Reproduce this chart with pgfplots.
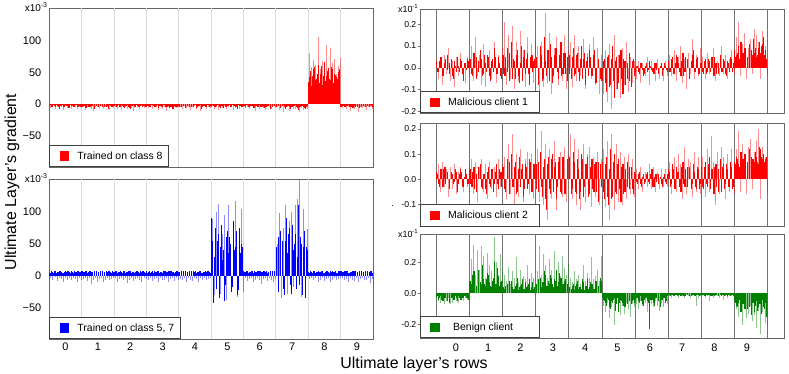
\documentclass[border=0pt]{standalone}
\usepackage{fontspec}
\setmainfont{Liberation Sans}
\usepackage{pgfplots}
\usepackage{pgfplotstable}
\pgfplotsset{compat=1.18}

\definecolor{benign}{RGB}{0,128,0}
\newcommand{\fs}[1]{\fontsize{#1}{#1}\selectfont}
\newcommand{\lstrut}{\rule[-2.5bp]{0pt}{10.5bp}}

% 16 rows per class, a = dark comb, b = light comb, c = extra thin dark comb
\pgfplotstableread[row sep=\\]{
a b\\
-3 -6\\ -4 -3\\ -2 -8\\ -5 -4\\ -3 -2\\ -7 -5\\ -3 -9\\ -4 -3\\ -2 -6\\ -3 -4\\ -6 -7\\ -3 -3\\ -4 -5\\ -2 -8\\ -5 -4\\ -3 -6\\
-4 -5\\ -3 -9\\ -6 -4\\ -2 -3\\ -4 -7\\ -3 -11\\ -8 -5\\ -3 -4\\ -4 -6\\ -2 -3\\ -5 -8\\ -3 -5\\ -4 -4\\ -7 -9\\ -3 -3\\ -4 -6\\
-3 -4\\ -5 -7\\ -2 -3\\ -4 -9\\ -3 -5\\ -6 -4\\ -3 -8\\ -4 -3\\ -7 -6\\ -3 -10\\ -4 -4\\ -2 -5\\ -5 -7\\ -3 -3\\ -4 -6\\ -3 -5\\
-4 -6\\ -3 -3\\ -5 -8\\ -2 -4\\ -4 -5\\ -3 -9\\ -6 -3\\ -3 -7\\ -4 -4\\ -2 -10\\ -5 -5\\ -3 -3\\ -4 -8\\ -7 -4\\ -3 -6\\ -4 -5\\
-3 -5\\ -4 -8\\ -2 -3\\ -6 -6\\ -3 -4\\ -4 -9\\ -3 -5\\ -5 -3\\ -2 -7\\ -4 -4\\ -3 -10\\ -7 -5\\ -3 -3\\ -4 -8\\ -2 -4\\ -4 -6\\
-4 -3\\ -3 -7\\ -5 -5\\ -2 -9\\ -4 -4\\ -3 -6\\ -6 -3\\ -4 -8\\ -3 -5\\ -2 -4\\ -5 -9\\ -3 -6\\ -4 -3\\ -8 -7\\ -3 -5\\ -4 -4\\
-3 -6\\ -5 -4\\ -2 -8\\ -4 -3\\ -3 -5\\ -6 -10\\ -3 -4\\ -4 -7\\ -2 -3\\ -5 -6\\ -3 -9\\ -4 -4\\ -3 -5\\ -7 -8\\ -4 -3\\ -3 -6\\
-4 -5\\ -3 -9\\ -6 -4\\ -3 -12\\ -4 -6\\ -5 -4\\ -3 -10\\ -7 -5\\ -4 -7\\ -3 -8\\ -5 -4\\ -9 -13\\ -4 -6\\ -3 -9\\ -6 -5\\ -4 -7\\
35 81\\ 52 58\\ 44 70\\ 58 62\\ 40 105\\ 62 55\\ 48 68\\ 30 60\\ 66 93\\ 45 52\\ 57 88\\ 38 64\\ 55 71\\ 47 48\\ 42 60\\ 50 72\\
-4 -6\\ -3 -4\\ -5 -8\\ -3 -5\\ -2 -10\\ -4 -4\\ -6 -7\\ -3 -3\\ -4 -12\\ -3 -5\\ -5 -6\\ -3 -4\\ -4 -9\\ -2 -5\\ -4 -4\\ -3 -7\\
}\tabLa
\pgfplotstableread[row sep=\\]{
c\\
-2\\ -4\\ -3\\ -2\\ -5\\ -3\\ -2\\ -4\\ -3\\ -6\\ -2\\ -3\\ -4\\ -2\\ -3\\ -5\\
-3\\ -2\\ -4\\ -5\\ -2\\ -3\\ -6\\ -2\\ -4\\ -3\\ -2\\ -5\\ -3\\ -2\\ -4\\ -3\\
-2\\ -3\\ -5\\ -2\\ -4\\ -3\\ -2\\ -6\\ -3\\ -2\\ -4\\ -3\\ -5\\ -2\\ -3\\ -4\\
-3\\ -5\\ -2\\ -3\\ -4\\ -2\\ -3\\ -5\\ -2\\ -4\\ -3\\ -6\\ -2\\ -3\\ -4\\ -2\\
-4\\ -2\\ -3\\ -5\\ -2\\ -3\\ -4\\ -2\\ -6\\ -3\\ -2\\ -4\\ -3\\ -5\\ -2\\ -3\\
-2\\ -4\\ -3\\ -2\\ -6\\ -3\\ -2\\ -4\\ -3\\ -5\\ -2\\ -3\\ -4\\ -2\\ -3\\ -5\\
-3\\ -2\\ -4\\ -3\\ -2\\ -5\\ -3\\ -2\\ -4\\ -3\\ -6\\ -2\\ -3\\ -4\\ -2\\ -3\\
-4\\ -3\\ -5\\ -2\\ -7\\ -3\\ -4\\ -5\\ -3\\ -2\\ -6\\ -4\\ -3\\ -5\\ -8\\ -3\\
42\\ 28\\ 55\\ 38\\ 48\\ 33\\ 60\\ 45\\ 36\\ 52\\ 40\\ 58\\ 34\\ 46\\ 39\\ 55\\
-3\\ -2\\ -4\\ -3\\ -5\\ -2\\ -3\\ -4\\ -2\\ -6\\ -3\\ -2\\ -4\\ -3\\ -2\\ -4\\
}\tabLaC

\pgfplotstableread[row sep=\\]{
a b\\
6 -3\\ 7 -6\\ 5 -2\\ 8 -8\\ 6 -4\\ 7 -5\\ 6 -10\\ 5 -3\\ 7 -6\\ 8 -4\\ 6 -7\\ 7 -3\\ 5 -5\\ 6 -9\\ 7 -4\\ 6 -6\\
7 -5\\ 6 -4\\ 8 -8\\ 5 -3\\ 7 -12\\ 6 -6\\ 7 -4\\ 8 -9\\ 6 -5\\ 5 -3\\ 7 -10\\ 6 -6\\ 8 -4\\ 7 -7\\ 6 -5\\ 7 -3\\
6 -4\\ 7 -9\\ 6 -5\\ 8 -3\\ 5 -7\\ 7 -4\\ 6 -11\\ 7 -6\\ 8 -3\\ 6 -8\\ 5 -5\\ 7 -4\\ 6 -6\\ 8 -10\\ 7 -3\\ 6 -5\\
7 -6\\ 6 -3\\ 5 -8\\ 7 -5\\ 8 -4\\ 6 -9\\ 7 -3\\ 6 -6\\ 5 -7\\ 7 -4\\ 6 -10\\ 8 -5\\ 7 -3\\ 6 -8\\ 5 -4\\ 7 -6\\
6 -5\\ 8 -7\\ 7 -3\\ 6 -10\\ 5 -4\\ 7 -6\\ 6 -8\\ 8 -3\\ 7 -5\\ 6 -9\\ 7 -4\\ 5 -6\\ 6 -3\\ 7 -7\\ 8 -5\\ 6 -4\\
90 88\\ -43 -30\\ 75 100\\ 55 112\\ -35 -28\\ 80 65\\ 40 95\\ -15 -38\\ 70 110\\ 60 -20\\ -25 80\\ 85 117\\ 45 -33\\ -30 70\\ 75 105\\ 50 -25\\
7 -4\\ 6 -8\\ 8 -5\\ 6 -3\\ 7 -9\\ 5 -6\\ 6 -4\\ 7 -7\\ 8 -12\\ 6 -5\\ 7 -3\\ 6 -8\\ 5 -4\\ 7 -6\\ 6 -10\\ 8 -5\\
45 50\\ -25 98\\ 70 -35\\ 55 75\\ -30 110\\ 90 -28\\ 65 85\\ -15 100\\ 80 -18\\ 50 110\\ -20 120\\ 110 150\\ 60 -33\\ -30 105\\ 70 -25\\ 45 73\\
6 -5\\ 7 -3\\ 5 -7\\ 8 -4\\ 6 -9\\ 7 -6\\ 6 -3\\ 8 -8\\ 5 -5\\ 7 -4\\ 6 -10\\ 7 -6\\ 8 -3\\ 6 -7\\ 5 -5\\ 7 -4\\
7 -4\\ 6 -7\\ 8 -5\\ 7 -10\\ 5 -3\\ 6 -6\\ 7 -8\\ 8 -4\\ 6 -9\\ 7 -5\\ 5 -3\\ 6 -7\\ 8 -6\\ 7 -4\\ 6 -11\\ 7 -5\\
}\tabLb
\pgfplotstableread[row sep=\\]{
c\\
5\\ 6\\ 7\\ 5\\ 6\\ 7\\ 5\\ 6\\ 6\\ 7\\ 5\\ 6\\ 7\\ 5\\ 6\\ 6\\
6\\ 5\\ 7\\ 6\\ 5\\ 6\\ 7\\ 5\\ 6\\ 7\\ 6\\ 5\\ 6\\ 7\\ 5\\ 6\\
7\\ 5\\ 6\\ 6\\ 7\\ 5\\ 6\\ 7\\ 5\\ 6\\ 6\\ 7\\ 5\\ 6\\ 7\\ 5\\
5\\ 7\\ 6\\ 5\\ 6\\ 7\\ 5\\ 6\\ 7\\ 5\\ 6\\ 6\\ 7\\ 5\\ 6\\ 7\\
6\\ 6\\ 5\\ 7\\ 6\\ 5\\ 7\\ 6\\ 5\\ 6\\ 7\\ 5\\ 6\\ 6\\ 7\\ 5\\
55\\ 30\\ -20\\ 65\\ 45\\ 25\\ -40\\ 60\\ 35\\ 50\\ -18\\ 40\\ 70\\ -22\\ 35\\ 45\\
6\\ 7\\ 5\\ 6\\ 6\\ 7\\ 5\\ 6\\ 7\\ 5\\ 6\\ 7\\ 6\\ 5\\ 7\\ 6\\
30\\ 60\\ 45\\ -20\\ 55\\ 35\\ 75\\ -28\\ 40\\ 65\\ 30\\ -15\\ 50\\ 45\\ -35\\ 40\\
5\\ 6\\ 7\\ 5\\ 6\\ 6\\ 7\\ 5\\ 6\\ 7\\ 5\\ 6\\ 6\\ 7\\ 5\\ 6\\
6\\ 5\\ 6\\ 7\\ 5\\ 6\\ 7\\ 6\\ 5\\ 6\\ 7\\ 5\\ 6\\ 6\\ 7\\ 5\\
}\tabLbC

\pgfplotstableread[row sep=\\]{
a b\\
3 -5\\ -2 4\\ 5 -8\\ -4 6\\ 2 -3\\ 6 9\\ -3 -6\\ 4 3\\ -5 -9\\ 1 5\\ 5 -4\\ -2 7\\ 3 -2\\ -6 -7\\ 2 5\\ 4 -3\\
4 10\\ -3 -6\\ 7 14\\ -5 -4\\ 3 6\\ 8 -8\\ -4 11\\ 6 -9\\ -2 5\\ 5 8\\ -6 -5\\ 4 12\\ 9 -7\\ -3 6\\ 5 -3\\ -4 9\\
6 21\\ -4 -8\\ 9 15\\ -6 -5\\ 12 19\\ 4 -10\\ -5 12\\ 8 -6\\ -7 17\\ 10 8\\ 5 -9\\ -3 14\\ 7 -4\\ -8 11\\ 6 -7\\ 3 13\\
5 10\\ -8 -15\\ 10 12\\ -6 -9\\ 14 25\\ -4 -7\\ 8 16\\ 11 -12\\ -7 9\\ 6 14\\ 9 -8\\ -5 11\\ 12 -6\\ -3 15\\ 7 -10\\ -6 8\\
6 12\\ -5 -9\\ 9 15\\ -3 -6\\ 7 10\\ -6 -4\\ 10 13\\ 4 -10\\ -8 7\\ 5 11\\ 8 -5\\ -4 14\\ 6 -8\\ -7 9\\ 3 -12\\ -5 6\\
-6 -12\\ 4 8\\ -11 -16\\ 6 11\\ -8 -19\\ 10 15\\ -14 -10\\ 5 6\\ -7 -14\\ 8 9\\ -12 -8\\ 3 12\\ -5 -11\\ 7 5\\ -9 -7\\ 4 3\\
-2 -5\\ 1 3\\ -3 -7\\ 2 2\\ -4 -4\\ 1 5\\ -2 -8\\ 3 3\\ -1 -3\\ -3 -6\\ 2 4\\ -2 -5\\ 1 2\\ -4 -6\\ 2 3\\ -1 -4\\
3 6\\ -2 -4\\ 5 8\\ -3 -6\\ 6 5\\ 2 10\\ -4 -7\\ 7 4\\ -2 -10\\ 4 7\\ -5 -3\\ 3 13\\ 8 -5\\ -2 6\\ 5 -4\\ -3 9\\
2 5\\ -3 -5\\ 4 7\\ -2 -3\\ 3 4\\ 5 9\\ -4 -6\\ 2 3\\ -3 -4\\ 6 10\\ -2 -3\\ 3 6\\ -4 -5\\ 2 4\\ 5 8\\ -2 -3\\
8 14\\ 6 21\\ 10 -4\\ 12 11\\ 7 16\\ 9 -5\\ 5 9\\ 11 13\\ 8 -3\\ 13 18\\ 9 15\\ 6 12\\ 12 -5\\ 10 17\\ 14 10\\ 8 -4\\
}\tabRa
\pgfplotstableread[row sep=\\]{
c\\
-2\\ 3\\ 1\\ -3\\ 4\\ -1\\ 2\\ -4\\ 3\\ -2\\ 1\\ 4\\ -3\\ 2\\ -1\\ 3\\
2\\ -4\\ 3\\ 5\\ -2\\ 4\\ -3\\ 2\\ 6\\ -4\\ 3\\ -2\\ 5\\ -3\\ 2\\ -5\\
-3\\ 5\\ -2\\ 7\\ -5\\ 3\\ 6\\ -4\\ 2\\ -6\\ 8\\ 4\\ -3\\ 5\\ -2\\ 4\\
4\\ -3\\ 6\\ -5\\ 3\\ 8\\ -6\\ 5\\ -4\\ 9\\ -2\\ 6\\ -4\\ 7\\ -3\\ 5\\
-3\\ 5\\ -4\\ 6\\ -2\\ 4\\ -5\\ 7\\ 3\\ -4\\ 5\\ -3\\ 8\\ -2\\ 4\\ -6\\
3\\ -7\\ 5\\ -9\\ 4\\ -6\\ 3\\ -10\\ 6\\ -5\\ 4\\ -8\\ 2\\ -6\\ 3\\ -4\\
1\\ -2\\ 2\\ -1\\ -3\\ 2\\ -1\\ 1\\ -2\\ 2\\ -1\\ -3\\ 2\\ -1\\ 1\\ -2\\
-2\\ 4\\ -3\\ 2\\ 5\\ -2\\ 3\\ -4\\ 5\\ 2\\ -3\\ 6\\ -2\\ 4\\ -3\\ 2\\
-2\\ 3\\ -3\\ 4\\ -2\\ 3\\ 5\\ -3\\ 2\\ -2\\ 4\\ -3\\ 3\\ -2\\ 4\\ 2\\
5\\ 7\\ 4\\ 9\\ 6\\ 8\\ 3\\ 10\\ 6\\ 7\\ 5\\ 9\\ 7\\ 11\\ 6\\ 4\\
}\tabRaC

\pgfplotstableread[row sep=\\]{
a b\\
3 6\\ -2 -5\\ 4 7\\ -3 -3\\ 5 4\\ 2 -7\\ -4 5\\ 3 -4\\ -2 6\\ 4 -6\\ -5 3\\ 2 5\\ 3 -5\\ -3 4\\ 4 -3\\ -2 6\\
4 8\\ -3 -6\\ 5 7\\ -5 -9\\ 3 5\\ 6 8\\ -4 -5\\ 2 6\\ -6 -8\\ 5 7\\ -3 -4\\ 4 5\\ -2 -7\\ 6 8\\ -4 -3\\ 3 6\\
5 9\\ -4 -8\\ 8 14\\ -6 -6\\ 10 18\\ -3 -12\\ 7 10\\ -5 -7\\ 9 12\\ 4 -9\\ -7 8\\ 6 11\\ -4 -6\\ 8 10\\ -5 -8\\ 6 7\\
6 12\\ -5 -9\\ 11 19\\ -7 -10\\ 8 14\\ -12 -16\\ 9 12\\ -6 -8\\ 10 15\\ 5 -12\\ -8 9\\ 7 11\\ -5 -7\\ 9 13\\ -6 -9\\ 8 10\\
9 18\\ -6 -8\\ 11 16\\ -5 -10\\ 8 12\\ -8 -12\\ 10 14\\ -7 -9\\ 6 10\\ 9 13\\ -6 -11\\ 8 9\\ -5 -7\\ 7 11\\ -9 -10\\ 6 8\\
7 12\\ -8 -11\\ 9 15\\ -10 -16\\ 12 18\\ -7 -12\\ 10 14\\ -6 -9\\ 8 11\\ -9 -10\\ 6 9\\ -5 -8\\ 7 10\\ -4 -6\\ 5 8\\ -6 -7\\
2 4\\ -2 -4\\ 3 5\\ -3 -5\\ 2 3\\ -1 -3\\ 3 6\\ -2 -4\\ 4 5\\ -3 -5\\ 2 3\\ -2 -4\\ 1 4\\ -3 -3\\ 2 4\\ -2 -3\\
4 7\\ -3 -6\\ 6 9\\ -4 -5\\ 5 10\\ 3 6\\ -5 -8\\ 7 13\\ -3 -6\\ 5 8\\ 4 7\\ -4 -7\\ 6 11\\ -3 -5\\ 5 9\\ -4 -6\\
5 9\\ -4 -7\\ 7 12\\ -3 -5\\ 9 17\\ 4 7\\ -6 -10\\ 6 11\\ -5 -6\\ 8 13\\ 5 9\\ -4 -8\\ 6 10\\ -3 -5\\ 7 12\\ -4 -6\\
7 12\\ 9 19\\ 6 -5\\ 11 14\\ 8 10\\ 10 -6\\ 7 13\\ 12 16\\ 9 -4\\ 8 11\\ 11 15\\ 7 20\\ 13 -8\\ 9 13\\ 10 9\\ 8 -5\\
}\tabRb
\pgfplotstableread[row sep=\\]{
c\\
2\\ -3\\ 1\\ 4\\ -2\\ 3\\ -3\\ 2\\ -1\\ 3\\ -2\\ 4\\ -3\\ 1\\ 2\\ -2\\
-2\\ 3\\ -4\\ 2\\ 5\\ -3\\ 2\\ -4\\ 3\\ -2\\ 4\\ -5\\ 3\\ -2\\ 4\\ -3\\
3\\ -5\\ 4\\ 7\\ -3\\ 5\\ -6\\ 4\\ -3\\ 6\\ -4\\ 5\\ -2\\ 7\\ -4\\ 3\\
-4\\ 7\\ -3\\ 5\\ -8\\ 6\\ -4\\ 8\\ -5\\ 7\\ -3\\ 9\\ -6\\ 5\\ -4\\ 6\\
5\\ -4\\ 7\\ -6\\ 4\\ -5\\ 8\\ -3\\ 6\\ -7\\ 5\\ -4\\ 6\\ -5\\ 7\\ -3\\
-5\\ 6\\ -7\\ 4\\ -8\\ 7\\ -5\\ 6\\ -4\\ 5\\ -6\\ 4\\ -3\\ 5\\ -4\\ 3\\
-1\\ 2\\ -2\\ 1\\ -2\\ 2\\ -1\\ 2\\ -3\\ 1\\ -1\\ 2\\ -2\\ 1\\ -1\\ 2\\
3\\ -2\\ 4\\ -4\\ 3\\ -3\\ 5\\ -2\\ 4\\ -3\\ 5\\ -2\\ 3\\ -4\\ 4\\ -2\\
-3\\ 5\\ -2\\ 6\\ -4\\ 3\\ 5\\ -3\\ 4\\ -5\\ 6\\ -2\\ 4\\ -3\\ 5\\ -3\\
6\\ 8\\ 5\\ 10\\ 7\\ 9\\ 6\\ 11\\ 8\\ 7\\ 9\\ 6\\ 12\\ 8\\ 7\\ 9\\
}\tabRbC

\pgfplotstableread[row sep=\\]{
a b\\
-3 -5\\ -4 -6\\ -2 -4\\ -5 -7\\ -3 -5\\ -4 -3\\ -6 -7\\ -3 -6\\ -4 -4\\ -2 -5\\ -5 -6\\ -3 -4\\ -4 -5\\ -3 -3\\ -2 -4\\ -3 -5\\
8 22\\ 6 31\\ 14 12\\ 5 28\\ 10 15\\ 7 30\\ 18 24\\ 6 10\\ 9 26\\ 12 18\\ 5 14\\ 8 36\\ 20 20\\ 6 12\\ 11 25\\ 7 15\\
4 12\\ 3 8\\ 6 17\\ 4 6\\ 8 14\\ 3 10\\ 5 23\\ 10 7\\ 4 15\\ 6 11\\ 3 9\\ 7 18\\ 5 8\\ 9 13\\ 4 10\\ 3 6\\
6 14\\ 5 30\\ 10 12\\ 7 25\\ 14 18\\ 5 10\\ 8 22\\ 12 15\\ 6 27\\ 9 13\\ 15 20\\ 7 11\\ 10 24\\ 6 16\\ 8 12\\ 5 19\\
4 10\\ 3 7\\ 6 14\\ 5 9\\ 8 12\\ 4 6\\ 3 18\\ 7 8\\ 5 13\\ 9 10\\ 4 23\\ 6 9\\ 3 11\\ 8 15\\ 5 8\\ 10 24\\
-3 -8\\ -5 -12\\ -8 -6\\ -4 -16\\ -10 -9\\ -6 -20\\ -3 -7\\ -7 -11\\ -12 -14\\ -4 -8\\ -6 -13\\ -9 -6\\ -3 -10\\ -5 -15\\ -7 -7\\ -4 -9\\
-4 -7\\ -3 -10\\ -6 -5\\ -5 -8\\ -8 -6\\ -3 -12\\ -5 -9\\ -23 -7\\ -4 -9\\ -6 -5\\ -3 -8\\ -5 -11\\ -9 -6\\ -4 -9\\ -3 -5\\ -5 -7\\
-1 -2\\ -2 -3\\ -1 -2\\ -2 -1\\ -1 -3\\ -1 -2\\ -2 -2\\ -1 -3\\ -2 -1\\ -1 -2\\ -1 -3\\ -2 -2\\ -1 -2\\ -2 -8\\ -1 -3\\ -2 -2\\
-1 -2\\ -1 -3\\ -2 -2\\ -1 -5\\ -1 -2\\ -2 -3\\ -1 -2\\ -1 -2\\ -2 -3\\ -1 -2\\ -1 -4\\ -2 -2\\ -1 -3\\ -1 -2\\ -2 -2\\ -1 -3\\
-5 -10\\ -8 -15\\ -6 -12\\ -12 -20\\ -7 -9\\ -10 -16\\ -5 -13\\ -9 -8\\ -14 -18\\ -6 -14\\ -8 -22\\ -11 -11\\ -7 -26\\ -13 -12\\ -9 -19\\ -6 -20\\
}\tabRc
\pgfplotstableread[row sep=\\]{
c\\
-2\\ -3\\ -4\\ -2\\ -3\\ -5\\ -2\\ -3\\ -4\\ -3\\ -2\\ -4\\ -3\\ -2\\ -3\\ -4\\
5\\ 12\\ 7\\ 4\\ 15\\ 6\\ 9\\ 5\\ 13\\ 7\\ 4\\ 10\\ 6\\ 16\\ 5\\ 8\\
3\\ 5\\ 2\\ 8\\ 4\\ 3\\ 6\\ 2\\ 5\\ 9\\ 3\\ 4\\ 6\\ 2\\ 7\\ 4\\
5\\ 9\\ 4\\ 7\\ 12\\ 5\\ 6\\ 10\\ 4\\ 8\\ 5\\ 13\\ 6\\ 4\\ 9\\ 6\\
3\\ 5\\ 2\\ 6\\ 3\\ 4\\ 9\\ 2\\ 5\\ 3\\ 7\\ 4\\ 2\\ 6\\ 3\\ 8\\
-4\\ -6\\ -3\\ -9\\ -5\\ -4\\ -11\\ -3\\ -6\\ -5\\ -8\\ -4\\ -7\\ -3\\ -5\\ -6\\
-3\\ -5\\ -2\\ -7\\ -4\\ -3\\ -6\\ -4\\ -2\\ -8\\ -3\\ -5\\ -4\\ -3\\ -6\\ -2\\
-1\\ -1\\ -2\\ -1\\ -2\\ -1\\ -1\\ -2\\ -1\\ -1\\ -2\\ -1\\ -2\\ -1\\ -1\\ -1\\
-1\\ -2\\ -1\\ -1\\ -2\\ -1\\ -2\\ -1\\ -1\\ -2\\ -1\\ -1\\ -2\\ -1\\ -1\\ -2\\
-6\\ -9\\ -4\\ -11\\ -7\\ -5\\ -10\\ -8\\ -6\\ -12\\ -5\\ -9\\ -7\\ -4\\ -10\\ -15\\
}\tabRcC

\tikzset{
  scalelab/.style={anchor=base east, inner sep=0pt, font=\fs{10}, xshift=-1.5bp, yshift=-3bp},
}

\pgfplotsset{
  panel/.style={
    scale only axis, anchor=south west, clip mode=individual,
    axis line style={black!60, line width=0.8bp},
    /pgf/number format/assume math mode=true,
    xticklabel style={font=\fs{11}},
    xtick pos=bottom, ytick pos=left,
    legend image code/.code={\path (0bp,0bp) (21bp,0bp); \fill[##1] (6bp,-4.25bp) rectangle (14.5bp,4.25bp);},
    legend style={at={(0,0)}, anchor=south west, draw=black!75, line width=0.8bp,
      fill=white, inner xsep=4bp, inner ysep=4bp, font=\fs{10.5}},
    legend cell align=left,
  },
  lpanel/.style={panel, width=323.7bp, xmin=-0.5, xmax=9.5, ymin=-98.6, ymax=150.6,
    ytick={-50,0,50,100}, yticklabels={−50,0,50,100},
    yticklabel style={font=\fs{11}, xshift=-4.5bp},
    major tick length=0pt,
    extra x ticks={0.5,1.5,...,8.5}, extra x tick labels={},
    extra x tick style={grid=major, major grid style={black!14, line width=0.9bp}}},
  rpanel/.style={panel, width=364.3bp, xmin=-1.11, xmax=10.16,
    yticklabel style={font=\fs{8.7}, inner xsep=1.5bp},
    major tick length=2bp, tick align=outside, ytick style={black!60},
    xtick style={draw=none},
    extra x ticks={-0.6,0.424,1.448,2.472,3.496,4.52,5.544,6.568,7.592,8.616,9.64},
    extra x tick labels={},
    extra x tick style={grid=major, major grid style={black!55, line width=0.9bp}}},
  dark/.style={ycomb, mark=none, line width=1.2bp, forget plot},
  thin/.style={ycomb, mark=none, line width=0.9bp, forget plot},
  light/.style={ycomb, mark=none, line width=1bp, opacity=0.45, forget plot},
}

\begin{document}
\begin{tikzpicture}
\path[use as bounding box] (0,0) rectangle (789bp,374bp);

% left top
\begin{axis}[lpanel, at={(49.3bp,207bp)}, height=158.7bp, xtick=\empty]
\addplot[light, red] table[x expr={-0.5+(\coordindex+0.82)/16}, y=b] {\tabLa};
\addplot[dark, red] table[x expr={-0.5+(\coordindex+0.15)/16}, y=a] {\tabLa};
\addplot[thin, red] table[x expr={-0.5+(\coordindex+0.5)/16}, y=c] {\tabLaC};
\addlegendimage{red}
\addlegendentry{Trained on class 8\lstrut}
\node[scalelab] at (rel axis cs:0,1) {x10\textsuperscript{-3}};
\end{axis}

% left bottom
\begin{axis}[lpanel, at={(49.3bp,35bp)}, height=159.7bp, xtick={0,...,9}]
\addplot[light, blue] table[x expr={-0.5+(\coordindex+0.82)/16}, y=b] {\tabLb};
\addplot[dark, blue] table[x expr={-0.5+(\coordindex+0.15)/16}, y=a] {\tabLb};
\addplot[thin, blue] table[x expr={-0.5+(\coordindex+0.5)/16}, y=c] {\tabLbC};
\addlegendimage{blue}
\addlegendentry{Trained on class 5, 7\lstrut}
\node[scalelab] at (rel axis cs:0,1) {x10\textsuperscript{-3}};
\end{axis}

% right 1
\begin{axis}[rpanel, at={(420bp,260.7bp)}, height=104bp, xtick=\empty,
  ymin=-21, ymax=26.9, ytick={-20,-10,0,10,20}, yticklabels={-0.2,-0.1,0.0,0.1,0.2}]
\addplot[light, red] table[x expr={-0.6+(\coordindex+0.82)*0.064}, y=b] {\tabRa};
\addplot[dark, red] table[x expr={-0.6+(\coordindex+0.15)*0.064}, y=a] {\tabRa};
\addplot[thin, red] table[x expr={-0.6+(\coordindex+0.5)*0.064}, y=c] {\tabRaC};
\addlegendimage{red}
\addlegendentry{\makebox[85bp][l]{Malicious client 1}\lstrut}
\node[scalelab, font=\fs{9}] at (rel axis cs:0,1) {x10\textsuperscript{-1}};
\end{axis}

% right 2
\begin{axis}[rpanel, at={(420bp,147.3bp)}, height=103.4bp, xtick=\empty,
  ymin=-18.8, ymax=22.2, ytick={-10,0,10,20}, yticklabels={-0.1,0.0,0.1,0.2}]
\addplot[light, red] table[x expr={-0.6+(\coordindex+0.82)*0.064}, y=b] {\tabRb};
\addplot[dark, red] table[x expr={-0.6+(\coordindex+0.15)*0.064}, y=a] {\tabRb};
\addplot[thin, red] table[x expr={-0.6+(\coordindex+0.5)*0.064}, y=c] {\tabRbC};
\addlegendimage{red}
\addlegendentry{\makebox[85bp][l]{Malicious client 2}\lstrut}
\node[anchor=base, inner sep=0pt, font=\fs{9}, xshift=-27.3bp, yshift=20bp] at (rel axis cs:0,0) {.};
\end{axis}

% right 3
\begin{axis}[rpanel, at={(420bp,35.7bp)}, height=104bp, xtick={0,...,9},
  ymin=-28.8, ymax=37.8, ytick={-20,0,20}, yticklabels={-0.2,0.0,0.2}]
\addplot[light, benign] table[x expr={-0.6+(\coordindex+0.82)*0.064}, y=b] {\tabRc};
\addplot[dark, benign] table[x expr={-0.6+(\coordindex+0.15)*0.064}, y=a] {\tabRc};
\addplot[thin, benign] table[x expr={-0.6+(\coordindex+0.5)*0.064}, y=c] {\tabRcC};
\addlegendimage{benign}
\addlegendentry{\makebox[85bp][l]{\hspace{5bp}Benign client}\lstrut}
\node[scalelab, font=\fs{9}] at (rel axis cs:0,1) {x10\textsuperscript{-1}};
\end{axis}

\node[rotate=90, font=\fs{16}] at (12bp,192bp) {Ultimate Layer's gradient};
\node[anchor=base, font=\fs{16}] at (414bp,6bp) {Ultimate layer's rows};
\end{tikzpicture}
\end{document}
